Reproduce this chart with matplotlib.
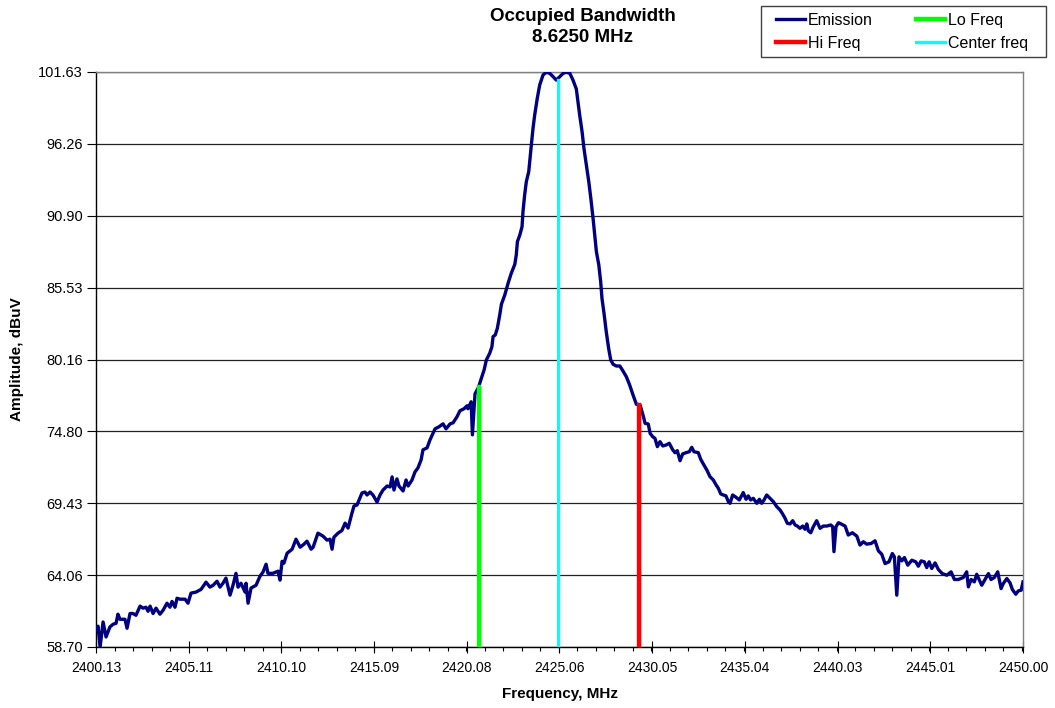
import matplotlib
matplotlib.use("Agg")
import matplotlib.pyplot as plt
from matplotlib.patches import Rectangle
from matplotlib.ticker import AutoMinorLocator

plt.rcParams['font.family'] = ['Liberation Sans', 'DejaVu Sans']

# Spectrum analyzer sweep (MHz, dBuV)
emission_freq = [
    2400.13, 2400.24, 2400.35, 2400.51, 2400.67, 2400.88, 2401.05, 2401.21, 2401.31, 2401.42,
    2401.69, 2401.80, 2401.96, 2402.12, 2402.28, 2402.50, 2402.66, 2402.82, 2402.93, 2403.04,
    2403.20, 2403.36, 2403.57, 2403.74, 2403.95, 2404.11, 2404.22, 2404.38, 2404.49, 2404.65,
    2404.92, 2405.08, 2405.24, 2405.51, 2405.78, 2406.05, 2406.26, 2406.43, 2406.64, 2406.80,
    2406.96, 2407.12, 2407.34, 2407.50, 2407.66, 2407.77, 2407.93, 2408.15, 2408.20, 2408.31,
    2408.47, 2408.74, 2408.95, 2409.11, 2409.28, 2409.38, 2409.65, 2409.92, 2410.03, 2410.14,
    2410.24, 2410.41, 2410.68, 2410.89, 2411.11, 2411.32, 2411.48, 2411.70, 2411.81, 2412.07,
    2412.34, 2412.56, 2412.72, 2412.83, 2412.93, 2413.15, 2413.36, 2413.53, 2413.69, 2413.90,
    2414.01, 2414.17, 2414.44, 2414.60, 2414.71, 2414.87, 2415.03, 2415.25, 2415.41, 2415.57,
    2415.79, 2415.95, 2416.06, 2416.16, 2416.32, 2416.43, 2416.65, 2416.81, 2416.92, 2417.13,
    2417.29, 2417.45, 2417.62, 2417.72, 2417.94, 2418.10, 2418.37, 2418.58, 2418.80, 2418.96,
    2419.18, 2419.34, 2419.55, 2419.71, 2419.93, 2420.09, 2420.14, 2420.31, 2420.38, 2420.52,
    2420.63, 2420.71, 2420.86, 2421.01, 2421.13, 2421.31, 2421.43, 2421.49, 2421.61, 2421.72,
    2421.85, 2421.94, 2422.12, 2422.30, 2422.47, 2422.66, 2422.74, 2422.80, 2422.93, 2423.05,
    2423.10, 2423.19, 2423.28, 2423.41, 2423.46, 2423.55, 2423.64, 2423.73, 2423.87, 2424.00,
    2424.18, 2424.36, 2424.54, 2424.72, 2424.89, 2425.08, 2425.26, 2425.43, 2425.62, 2425.79,
    2425.97, 2426.06, 2426.15, 2426.28, 2426.38, 2426.51, 2426.64, 2426.75, 2426.87, 2426.96,
    2427.05, 2427.18, 2427.28, 2427.35, 2427.46, 2427.58, 2427.71, 2427.82, 2427.95, 2428.12,
    2428.31, 2428.48, 2428.66, 2428.84, 2429.02, 2429.20, 2429.33, 2429.40, 2429.58, 2429.67,
    2429.84, 2429.94, 2430.08, 2430.20, 2430.33, 2430.47, 2430.62, 2430.80, 2430.97, 2431.16,
    2431.28, 2431.40, 2431.55, 2431.69, 2431.87, 2432.05, 2432.18, 2432.30, 2432.53, 2432.66,
    2432.80, 2432.99, 2433.16, 2433.34, 2433.49, 2433.61, 2433.74, 2433.88, 2434.02, 2434.15,
    2434.24, 2434.38, 2434.56, 2434.74, 2434.95, 2435.10, 2435.22, 2435.35, 2435.49, 2435.68,
    2435.82, 2435.94, 2436.07, 2436.21, 2436.39, 2436.57, 2436.75, 2436.93, 2437.07, 2437.20,
    2437.32, 2437.47, 2437.61, 2437.74, 2437.86, 2438.00, 2438.15, 2438.27, 2438.37, 2438.45,
    2438.58, 2438.72, 2438.90, 2439.08, 2439.26, 2439.44, 2439.66, 2439.76, 2439.83, 2439.94,
    2440.07, 2440.21, 2440.43, 2440.60, 2440.82, 2441.06, 2441.23, 2441.41, 2441.59, 2441.83,
    2442.04, 2442.22, 2442.40, 2442.58, 2442.79, 2442.97, 2443.08, 2443.21, 2443.33, 2443.48,
    2443.62, 2443.80, 2444.02, 2444.23, 2444.37, 2444.52, 2444.69, 2444.82, 2444.95, 2445.09,
    2445.27, 2445.45, 2445.66, 2445.90, 2446.13, 2446.31, 2446.52, 2446.79, 2446.97, 2447.06,
    2447.21, 2447.38, 2447.51, 2447.64, 2447.78, 2447.96, 2448.14, 2448.28, 2448.46, 2448.64,
    2448.82, 2448.94, 2449.13, 2449.30, 2449.43, 2449.61, 2449.75, 2449.90, 2450.00,
]
emission_dbuv = [
    59.95, 60.25, 58.70, 60.57, 59.45, 60.20, 60.40, 60.47, 61.15, 60.77,
    60.77, 60.10, 61.20, 61.20, 61.07, 61.75, 61.60, 61.67, 61.37, 61.75,
    61.20, 61.60, 61.15, 61.45, 61.97, 61.67, 62.10, 61.67, 62.34, 62.27,
    62.27, 61.97, 62.72, 62.80, 63.00, 63.54, 63.17, 63.31, 63.61, 63.17,
    63.46, 63.84, 62.57, 63.31, 64.20, 63.17, 63.46, 62.80, 63.46, 61.97,
    63.10, 63.31, 63.98, 64.28, 64.88, 64.20, 64.20, 64.36, 63.69, 65.10,
    64.96, 65.70, 66.00, 66.75, 66.15, 66.38, 66.60, 66.00, 66.15, 67.20,
    66.98, 66.68, 66.75, 66.00, 66.90, 67.20, 67.40, 67.95, 67.58, 68.70,
    69.23, 69.30, 70.20, 70.27, 70.05, 70.27, 70.05, 69.52, 70.05, 70.42,
    70.72, 70.65, 71.40, 70.42, 71.25, 70.72, 70.35, 71.17, 70.72, 71.17,
    71.77, 72.07, 72.67, 73.42, 73.57, 74.17, 74.99, 75.14, 75.36, 74.99,
    75.36, 75.44, 75.89, 76.34, 76.49, 76.71, 76.49, 77.01, 74.54, 77.60,
    77.90, 78.10, 78.76, 79.39, 80.13, 80.63, 81.12, 81.87, 82.00, 82.49,
    83.49, 84.29, 84.98, 85.86, 86.60, 87.27, 87.97, 88.96, 89.46, 90.08,
    91.20, 92.45, 93.44, 94.19, 94.93, 96.18, 97.42, 98.42, 99.67, 100.66,
    101.41, 101.61, 101.53, 101.28, 101.03, 101.28, 101.53, 101.61, 101.53, 101.03,
    100.36, 99.41, 98.42, 97.17, 95.93, 94.69, 93.44, 92.20, 90.71, 89.46,
    88.21, 87.22, 85.97, 84.73, 83.61, 82.24, 80.99, 80.13, 79.81, 79.68,
    79.68, 79.31, 78.88, 78.26, 77.52, 76.82, 76.80, 76.77, 75.90, 75.40,
    75.35, 74.65, 74.40, 74.28, 73.66, 74.03, 73.71, 73.78, 73.91, 73.41,
    73.21, 73.36, 72.61, 73.11, 73.21, 73.28, 73.61, 73.28, 73.21, 72.72,
    72.37, 71.92, 71.42, 71.17, 70.80, 70.55, 70.13, 70.05, 69.98, 69.55,
    69.43, 70.05, 69.88, 69.68, 70.23, 69.73, 69.98, 69.68, 69.80, 69.43,
    69.73, 69.43, 69.68, 70.05, 69.80, 69.55, 69.18, 68.93, 68.63, 68.31,
    67.94, 67.89, 68.13, 67.81, 67.73, 67.56, 67.73, 67.49, 67.89, 67.38,
    67.23, 67.68, 68.13, 67.56, 67.73, 67.73, 67.81, 67.68, 65.82, 67.68,
    67.98, 67.89, 67.73, 67.06, 67.23, 66.98, 66.31, 66.56, 66.38, 66.43,
    66.63, 65.88, 65.63, 64.93, 65.06, 65.68, 65.43, 62.57, 65.43, 65.13,
    65.38, 64.81, 65.18, 65.06, 64.73, 65.13, 65.06, 64.63, 65.06, 64.56,
    64.98, 64.48, 64.18, 64.06, 64.31, 63.74, 63.74, 63.89, 64.31, 63.19,
    63.74, 63.56, 64.13, 63.74, 63.31, 63.74, 64.18, 63.74, 63.89, 64.31,
    63.06, 63.44, 63.81, 63.49, 62.99, 62.64, 62.89, 62.94, 63.56,
]

# Band edges and centre
lo_freq, lo_level = 2420.71, 78.10
hi_freq, hi_level = 2429.335, 76.80
center_freq, center_level = 2424.96, 101.00
bandwidth = hi_freq - lo_freq

y_ticks = [58.70, 64.06, 69.43, 74.80, 80.16, 85.53, 90.90, 96.26, 101.63]
x_ticks = [2400.13, 2405.11, 2410.10, 2415.09, 2420.08, 2425.06,
           2430.05, 2435.04, 2440.03, 2445.01, 2450.00]

W, H = 1055, 708
fig = plt.figure(figsize=(W / 100, H / 100), dpi=100)
ax = fig.add_axes([96 / W, (H - 647) / H, 927 / W, 575 / H])

y_min, y_max = y_ticks[0], y_ticks[-1]

em, = ax.plot(emission_freq, emission_dbuv, color='#000080', lw=2.4,
              solid_joinstyle='round', zorder=3, label='Emission')
lo, = ax.plot([lo_freq, lo_freq], [y_min, lo_level], color='#00FF00', lw=3.2,
              zorder=4, label='Lo Freq')
hi, = ax.plot([hi_freq, hi_freq], [y_min, hi_level], color='#FF0000', lw=3.2,
              zorder=4, label='Hi Freq')
ce, = ax.plot([center_freq, center_freq], [y_min, center_level], color='#00FFFF',
              lw=2.4, zorder=4, label='Center freq')

ax.set_xlim(x_ticks[0], x_ticks[-1])
ax.set_ylim(y_min, y_max)
ax.set_yticks(y_ticks)
ax.set_yticklabels([f"{v:.2f}" for v in y_ticks])
ax.set_xticks(x_ticks)
ax.set_xticklabels([f"{v:.2f}" for v in x_ticks])
ax.xaxis.set_minor_locator(AutoMinorLocator(5))

ax.yaxis.grid(True, color='#222222', lw=0.9)
ax.set_axisbelow(True)

for side in ('left', 'bottom'):
    ax.spines[side].set_color('black')
    ax.spines[side].set_linewidth(1.0)
for side in ('right', 'top'):
    ax.spines[side].set_color('#808080')
    ax.spines[side].set_linewidth(1.0)

ax.tick_params(axis='y', direction='out', length=6.5, width=0.8, pad=3,
               labelsize=10.5, colors='black')
ax.tick_params(axis='x', which='major', direction='inout', length=8, width=0.8,
               pad=6, labelsize=10, colors='black')
ax.tick_params(axis='x', which='minor', direction='out', length=3, width=0.8)

ax.set_xlabel('Frequency, MHz', fontsize=11, fontweight='bold')
ax.set_ylabel('Amplitude, dBuV', fontsize=11, fontweight='bold')
ax.xaxis.set_label_coords(0.5, -0.069)
ax.yaxis.set_label_coords(-0.078, 0.5)

fig.text(583 / W, 1 - 27 / H, f"Occupied Bandwidth\n{bandwidth:.4f} MHz",
         ha='center', va='center', fontsize=13.5, fontweight='bold',
         linespacing=1.3)

# Legend with a square frame
fig.add_artist(Rectangle((761 / W, 1 - 57 / H), 285 / W, 51 / H,
                         transform=fig.transFigure, fill=False,
                         ec='#404040', lw=1.0))
fig.legend([em, hi, lo, ce], ['Emission', 'Hi Freq', 'Lo Freq', 'Center freq'],
           loc='upper left', bbox_to_anchor=(776 / W, 1 - 13 / H), ncol=2,
           frameon=False, borderpad=0, borderaxespad=0, fontsize=11.5,
           handlelength=1.8, handletextpad=0.2, columnspacing=2.7,
           labelspacing=0.5)

fig.savefig('out.png', dpi=100)
